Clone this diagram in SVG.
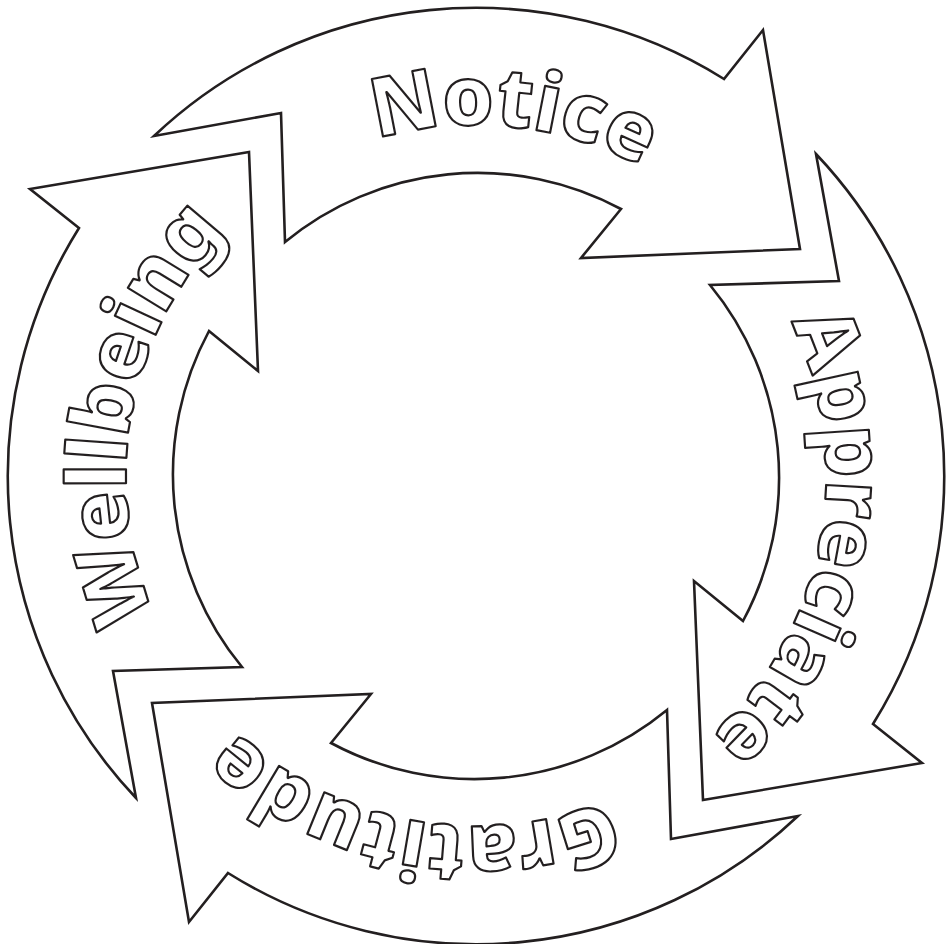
<svg xmlns="http://www.w3.org/2000/svg" xmlns:xlink="http://www.w3.org/1999/xlink" width="949" height="944" viewBox="0 0 949 944">
  <style>
    .arrow { fill: #ffffff; stroke: #231f20; stroke-width: 2.6; stroke-linejoin: miter; }
    .label { font-family: "Noto Sans", "Open Sans", "Liberation Sans", sans-serif; font-weight: 800; font-size: 82px; fill: #ffffff; stroke: #231f20; stroke-width: 2.2; stroke-linejoin: round; }
  </style>
  <defs>
    <path id="arrowShape" d="M154,136 A468,468 0 0 1 724,79 L763,30 L800,249 L581,258 L621,209 A303,303 0 0 0 285,242 L281,113 Z"/>
    <path id="pNotice" d="M140.73,374.13 A350,350 0 0 1 824.66,445.50" fill="none"/>
    <path id="pAppreciate" d="M601.43,149.24 A350,350 0 0 1 469.89,825.95" fill="none"/>
    <path id="pGratitude" d="M803.84,598.57 A350,350 0 0 1 126.01,472.95" fill="none"/>
    <path id="pWellbeing" d="M353.43,803.84 A350,350 0 0 1 479.05,126.01" fill="none"/>
  </defs>
  <rect width="949" height="944" fill="#ffffff"/>
  <g id="connectors"></g>
  <g id="node-notice">
    <use href="#arrowShape" class="arrow"/>
    <text class="label" text-anchor="middle"><textPath href="#pNotice" startOffset="50%">Notice</textPath></text>
  </g>
  <g id="node-appreciate">
    <use href="#arrowShape" class="arrow" transform="rotate(90 476 476)"/>
    <text class="label" text-anchor="middle"><textPath href="#pAppreciate" startOffset="50%">Appreciate</textPath></text>
  </g>
  <g id="node-gratitude">
    <use href="#arrowShape" class="arrow" transform="rotate(180 476 476)"/>
    <text class="label" text-anchor="middle"><textPath href="#pGratitude" startOffset="50%">Gratitude</textPath></text>
  </g>
  <g id="node-wellbeing">
    <use href="#arrowShape" class="arrow" transform="rotate(270 476 476)"/>
    <text class="label" text-anchor="middle"><textPath href="#pWellbeing" startOffset="50%">Wellbeing</textPath></text>
  </g>
</svg>
